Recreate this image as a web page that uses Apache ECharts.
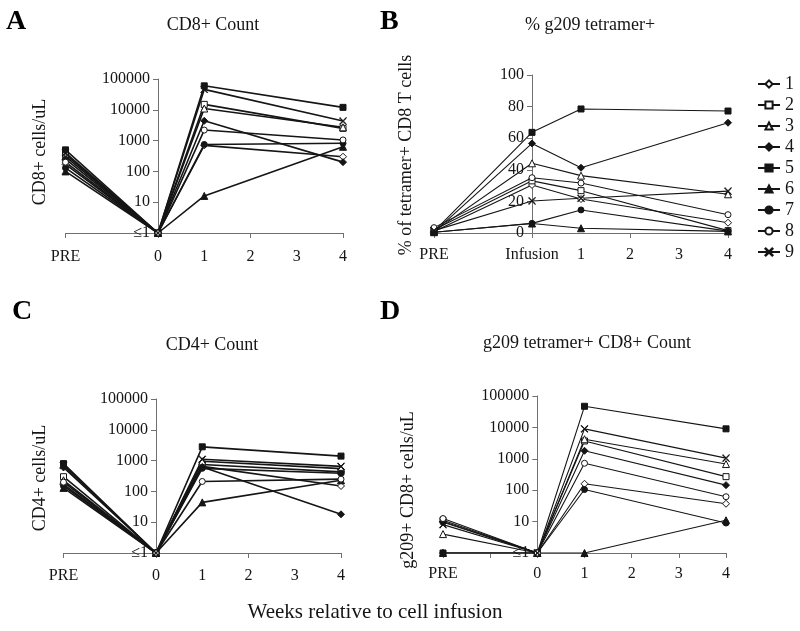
<!DOCTYPE html>
<html><head><meta charset="utf-8">
<script src="https://cdn.jsdelivr.net/npm/echarts@6/dist/echarts.min.js"></script>
<style>html,body{margin:0;padding:0;background:#fff}#c{width:800px;height:631px}</style>
</head><body><div id="c"></div>
<script>
// ---------- data ----------
const patients = ['1','2','3','4','5','6','7','8','9'];
const weeks = [-2, 0, 1, 4];               // PRE, infusion (0), week 1, week 4
const xTickLabels = {'-2':'PRE','-1':'','0':'0','1':'1','2':'2','3':'3','4':'4'};
const xTickLabelsB = {'-2':'PRE','-1':'','0':'Infusion','1':'1','2':'2','3':'3','4':'4'};
const logTickLabels = {1:'≤1',10:'10',100:'100',1000:'1000',10000:'10000',100000:'100000'};

// A: CD8+ cells/uL  [PRE, 0, wk1, wk4]
const cd8Count = [
  [170, 1, 700, 300],
  [350, 1, 15000, 2500],
  [300, 1, 11000, 2700],
  [250, 1, 4400, 200],
  [500, 1, 60000, 12000],
  [100, 1, 16, 630],
  [130, 1, 750, 820],
  [200, 1, 2200, 1050],
  [400, 1, 46000, 4300]
];
// B: % of tetramer+ CD8 T cells
const tetPercent = [
  [1, 30.4, 21.5, 6.5],
  [2, 33, 26.8, 1.5],
  [1, 44.1, 36.3, 24.5],
  [0.5, 56.7, 41.3, 69.8],
  [1, 63.7, 78.5, 77.2],
  [0.5, 6, 3.0, 1],
  [0.5, 6.1, 14.6, 1.2],
  [3.4, 35, 31.6, 11.6],
  [1.5, 20.3, 22, 26.5]
];
// C: CD4+ cells/uL
const cd4Count = [
  [170, 1, 650, 150],
  [300, 1, 750, 430],
  [230, 1, 950, 550],
  [600, 1, 620, 18],
  [800, 1, 2800, 1400],
  [130, 1, 44, 230],
  [150, 1, 560, 390],
  [200, 1, 210, 250],
  [700, 1, 1100, 650]
];
// D: g209+ CD8+ cells/uL
const tetCount = [
  [1, 1, 160, 37],
  [11, 1, 3700, 270],
  [4, 1, 4200, 680],
  [10, 1, 1800, 145],
  [1, 1, 47000, 9000],
  [1, 1, 1, 11],
  [9.5, 1, 105, 9],
  [12.5, 1, 720, 62],
  [8, 1, 9000, 1050]
];

// ---------- styles ----------
const FONT = 'Liberation Serif';
const INK = '#151515';
const AX = '#707070';
const starPath = 'path://M0.6,0L5,4.4L9.4,0L10,0.6L5.6,5L10,9.4L9.4,10L5,5.6L0.6,10L0,9.4L4.4,5L0,0.6Z';
const shapes = ['diamond','rect','triangle','diamond','rect','triangle','circle','circle',starPath];
const filled = [false,false,false,true,true,true,true,false,true];
const sizes  = [7,6,7,7,6,7,6,6,7];

const grids = [
  {left: 65.5, top: 79, width: 277.5, height: 154},   // A
  {left: 434,  top: 75, width: 294,   height: 158},   // B
  {left: 63.5, top: 399, width: 277.5, height: 154},  // C
  {left: 443,  top: 396, width: 283,  height: 157}    // D
];
const panelData = [cd8Count, tetPercent, cd4Count, tetCount];
const lineW = [1.6, 1.1, 1.6, 1.1];
const labelMargins = [16, 14, 15, 13];
const tickIntervals = [2, 2, 2, 1];

const xAxes = [], yAxes = [], series = [];
grids.forEach((g, k) => {
  const labels = k === 1 ? xTickLabelsB : xTickLabels;
  xAxes.push({
    gridIndex: k, type: 'value', min: -2, max: 4, interval: tickIntervals[k],
    axisLine: {show: true, onZero: k === 1, lineStyle: {color: AX, width: 1}},
    axisTick: {show: true, length: 5, lineStyle: {color: AX}},
    axisLabel: {show: false}, splitLine: {show: false}
  });
  xAxes.push({
    gridIndex: k, type: 'value', min: -2, max: 4, interval: 1, position: 'bottom',
    axisLine: {show: false, onZero: k === 1}, axisTick: {show: false}, splitLine: {show: false},
    axisLabel: {show: true, margin: labelMargins[k], color: INK, fontFamily: FONT, fontSize: 16,
      formatter: v => labels[String(v)] ?? ''}
  });
  // y axis sits at x = 0 (one third across the -2..4 range)
  const yOffset = -g.width / 3;
  if (k === 1) {
    yAxes.push({
      gridIndex: k, type: 'value', min: 0, max: 100, interval: 20, position: 'left', offset: yOffset,
      axisLine: {show: true, onZero: false, lineStyle: {color: AX}},
      axisTick: {show: true, length: 5, lineStyle: {color: AX}},
      axisLabel: {color: INK, fontFamily: FONT, fontSize: 16, margin: 8},
      splitLine: {show: false}
    });
  } else {
    yAxes.push({
      gridIndex: k, type: 'log', logBase: 10, min: 1, max: 100000, position: 'left', offset: yOffset,
      axisLine: {show: true, onZero: false, lineStyle: {color: AX}},
      axisTick: {show: true, length: 5, lineStyle: {color: AX}},
      axisLabel: {color: INK, fontFamily: FONT, fontSize: 16, margin: 8,
        formatter: v => logTickLabels[Math.round(v)] ?? ''},
      splitLine: {show: false}
    });
  }
});

// panel B first so the legend takes its (thin) style
const order = [1, 0, 2, 3];
order.forEach(k => {
  patients.forEach((p, i) => {
    series.push({
      name: p, type: 'line', xAxisIndex: 2 * k, yAxisIndex: k,
      data: weeks.map((w, j) => [w, panelData[k][i][j]]),
      symbol: shapes[i], symbolSize: sizes[i], showAllSymbol: true,
      lineStyle: {color: INK, width: lineW[k]},
      itemStyle: {color: filled[i] ? INK : '#fff', borderColor: INK, borderWidth: 1},
      emphasis: {disabled: true}, animation: false, z: 3
    });
  });
});

const txt = (text, x, y, size) => ({
  type: 'text', x, y,
  style: {text, fontFamily: FONT, fontSize: size, fill: INK, align: 'center', verticalAlign: 'middle'}
});
const rot = (text, x, y, size) => ({
  type: 'text', x, y, rotation: Math.PI / 2,
  style: {text, fontFamily: FONT, fontSize: size, fill: INK, align: 'center', verticalAlign: 'middle'}
});
const letter = (text, x, y) => ({
  type: 'text', x, y,
  style: {text, fontFamily: FONT, fontSize: 28, fontWeight: 'bold', fill: '#000', align: 'left', verticalAlign: 'top'}
});

const chart = echarts.init(document.getElementById('c'), null, {renderer: 'canvas'});
chart.setOption({
  animation: false,
  backgroundColor: '#fff',
  grid: grids.map(g => Object.assign({containLabel: false}, g)),
  xAxis: xAxes,
  yAxis: yAxes,
  legend: {
    data: patients, orient: 'vertical', left: 752, top: 70,
    itemWidth: 22, itemHeight: 9, itemGap: 3,
    textStyle: {fontFamily: FONT, fontSize: 18, color: INK}, selectedMode: false
  },
  graphic: [
    letter('A', 6, 8), letter('B', 380, 8), letter('C', 12, 298), letter('D', 380, 298),
    txt('CD8+ Count', 213, 25, 18),
    txt('% g209 tetramer+', 590, 25, 18),
    txt('CD4+ Count', 212, 345, 18),
    txt('g209 tetramer+ CD8+ Count', 587, 343, 18),
    rot('CD8+ cells/uL', 40, 152, 18),
    rot('% of tetramer+ CD8 T cells', 406, 155, 18),
    rot('CD4+ cells/uL', 40, 478, 18),
    rot('g209+ CD8+ cells/uL', 408, 490, 18),
    txt('Weeks relative to cell infusion', 375, 612, 21)
  ],
  series: series
});
</script>
</body></html>
